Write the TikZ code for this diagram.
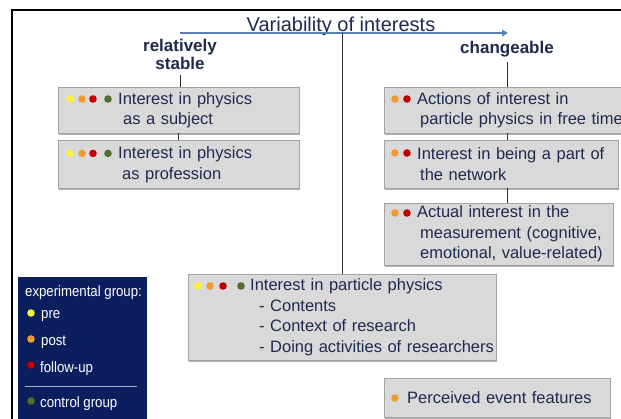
\documentclass[tikz,border=0pt]{standalone}
\usepackage{fontspec}
\setmainfont{Liberation Sans}
\newfontfamily\legendfont[FakeStretch=0.88]{Liberation Sans}
\usetikzlibrary{arrows.meta,positioning,calc,shadows}
\definecolor{Ink}{HTML}{1F2A4E}
\definecolor{BoxFill}{HTML}{D9D9D9}
\definecolor{BoxLine}{HTML}{A3A3A3}
\definecolor{Navy}{HTML}{0B1F5E}
\definecolor{AxisBlue}{HTML}{5A7FB5}
\definecolor{Pre}{HTML}{F7F23A}
\definecolor{Post}{HTML}{F29B30}
\definecolor{FollowUp}{HTML}{C00000}
\definecolor{Control}{HTML}{556B2F}
% coloured survey dots in the top line of a box
\newcommand{\ratedots}[3]{%
  \foreach \dx/\dc in {#3}{\fill[\dc] ($(#1.north west)+(\dx,#2)$) circle [radius=3.8pt];}}

\begin{document}
\begin{tikzpicture}[x=1pt,y=-1pt,font=\fontsize{16.5}{20.5}\selectfont,
  ibox/.style={draw=BoxLine,fill=BoxFill,anchor=north west,align=left,inner xsep=0pt,inner ysep=0pt,text=Ink,
    drop shadow={shadow xshift=1pt,shadow yshift=-1.5pt,fill=black,opacity=0.3}},
  head/.style={font=\fontsize{17}{18}\selectfont\bfseries,text=Ink,align=center,inner xsep=0pt,inner ysep=5pt},
  link/.style={draw=black!80,line width=0.9pt},
  legtext/.style={font=\legendfont\fontsize{15}{17}\selectfont,text=white,anchor=base west,inner sep=0pt}]
  \useasboundingbox (0,0) rectangle (621,418);
  \clip (0,0) rectangle (621,418);
  \fill[white] (0,0) rectangle (621,418);
  \draw[line width=1.2pt] (12,10) rectangle (660,460);

  % axis
  \node[text=Ink,font=\fontsize{20}{22}\selectfont,anchor=base] (title) at (341,31) {Variability of interests};
  \coordinate (axisL) at (180,33);
  \coordinate (axisR) at (508,33);
  \draw[AxisBlue,line width=1.6pt,-{Triangle[length=6pt,width=6.5pt]}] (axisL) -- (axisR);
  \node[head,anchor=south] (stable) at (180,75) {relatively\\stable};
  \node[head,anchor=base] (changeable) at (507,53) {changeable};

  % relatively stable
  \node[ibox,text width=241pt,minimum height=46pt] (box1) at (58,87)
    {\hspace*{60pt}Interest in physics\\\hspace*{65pt}as a subject};
  \node[ibox,text width=241pt,minimum height=48pt,below=7pt of box1] (box2)
    {\hspace*{60pt}Interest in physics\\\hspace*{64pt}as profession};

  % changeable
  \node[ibox,text width=250pt,minimum height=46pt] (rbox1) at (384,87)
    {\hspace*{33pt}Actions of interest in\\\hspace*{36pt}particle physics in free time};
  \node[ibox,text width=234pt,minimum height=48pt] (rbox2) at (384,140)
    {\hspace*{33pt}Interest in being a part of\\\hspace*{36pt}the network};
  \node[ibox,text width=229pt,minimum height=62pt] (rbox3) at (384,203)
    {\hspace*{33pt}Actual interest in the\\\hspace*{36pt}measurement (cognitive,\\\hspace*{36pt}emotional, value-related)};

  % middle
  \node[ibox,text width=308pt,minimum height=86pt] (pbox) at (188,274)
    {\hspace*{62pt}Interest in particle physics\\\hspace*{71pt}- Contents\\\hspace*{71pt}- Context of research\\\hspace*{71pt}- Doing activities of researchers};
  \node[ibox,text width=226pt,minimum height=39pt] (events) at (384,378)
    {\hspace*{23pt}Perceived event features};

  \ratedots{box1}{12}{12/Pre,24/Post,35/FollowUp,50/Control}
  \ratedots{box2}{13}{12/Pre,24/Post,35/FollowUp,50/Control}
  \ratedots{rbox1}{12}{11/Post,23/FollowUp}
  \ratedots{rbox2}{13}{11/Post,23/FollowUp}
  \ratedots{rbox3}{10}{11/Post,23/FollowUp}
  \ratedots{pbox}{12}{10/Pre,22/Post,35/FollowUp,53/Control}
  \ratedots{events}{20}{11/Post}

  \draw[link] (stable.south) -- (stable.south |- box1.north);
  \draw[link] (box1) -- (box2);
  \draw[link] (changeable.south) -- (changeable.south |- rbox1.north);
  \draw[link] (changeable.south |- rbox1.south) -- (changeable.south |- rbox2.north);
  \draw[link] (changeable.south |- rbox2.south) -- (changeable.south |- rbox3.north);
  \draw[link] (axisL -| pbox.north) -- (pbox.north);

  % legend
  \node[fill=Navy,anchor=north west,minimum width=129pt,minimum height=160pt,inner sep=0pt] (legend) at (18,277) {};
  \node[legtext] (lexp) at (25,296) {experimental group:};
  \node[legtext] (lpre) at (41,318) {pre};
  \node[legtext] (lpost) at (41,345) {post};
  \node[legtext] (lfollow) at (40,372) {follow-up};
  \node[legtext] (lcontrol) at (40,407) {control group};
  \fill[Pre] (31,313) circle [radius=3.8pt];
  \fill[Post] (31,339) circle [radius=3.8pt];
  \fill[FollowUp] (31,365) circle [radius=3.8pt];
  \fill[Control] (31,401) circle [radius=3.8pt];
  \draw[white!65!Navy,line width=0.8pt] (25,386) -- (137,386);
\end{tikzpicture}
\end{document}
